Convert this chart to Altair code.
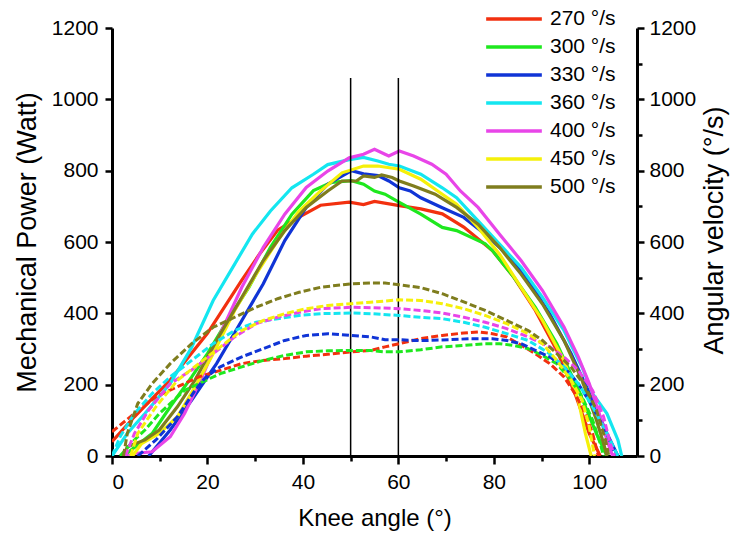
import altair as alt
import pandas as pd

FONT = "Liberation Sans"

speeds = ["270 °/s", "300 °/s", "330 °/s", "360 °/s", "400 °/s", "450 °/s", "500 °/s"]
colors = ["#F2300F", "#1EE81E", "#1034D6", "#14E6F0", "#E845E8", "#F5F00A", "#7F7D1E"]

# ---- Mechanical power (solid lines, left axis) ----
p270_x = [0, 4.7, 12.2, 20, 27.2, 31, 34.7, 39.2, 43.7, 49.7, 52.7, 55, 60.2, 64.7, 69.2, 73.7, 79.7, 84.2, 88.7, 93.2, 97, 100, 102.3]
p270_y = [40, 110, 213, 344, 493, 568, 633, 670, 703, 712, 705, 714, 702, 693, 679, 642, 576, 501, 408, 296, 175, 63, 0]

p300_x = [2.4, 8.4, 12.2, 16.7, 20, 24.2, 28.7, 33.2, 37.7, 42.2, 46, 50.2, 52.7, 55, 57.2, 60.2, 64.7, 69.2, 72.2, 78.2, 79.7, 84.2, 88.7, 93.2, 97.8, 101.5, 103.7]
p300_y = [0, 63, 138, 222, 287, 380, 473, 585, 678, 744, 767, 772, 762, 743, 734, 711, 678, 641, 632, 595, 576, 501, 417, 315, 184, 63, 0]

p330_x = [7.7, 12.2, 16.7, 21.9, 27.2, 31.7, 36.2, 40.7, 45.2, 50.2, 52.7, 55.7, 58, 60.2, 62.5, 64.7, 69.2, 73.7, 78.2, 82.7, 87.2, 91.7, 96.2, 100.7, 103.7, 106]
p330_y = [0, 73, 157, 259, 380, 483, 604, 697, 762, 800, 791, 786, 771, 752, 743, 724, 696, 669, 622, 566, 492, 399, 287, 157, 63, 0]

p360_x = [0, 3.2, 6.9, 12.2, 16.7, 21.2, 25.7, 29.4, 33.2, 37.7, 42.2, 45.2, 49.7, 52.7, 55.7, 58, 60.2, 64.7, 69.2, 72.2, 76.7, 81.2, 85.7, 90.2, 94.7, 98.5, 100.7, 103.7, 106, 106.8]
p360_y = [0, 63, 119, 203, 305, 436, 538, 622, 687, 752, 790, 817, 831, 837, 827, 818, 813, 790, 752, 724, 659, 594, 529, 445, 352, 249, 175, 119, 45, 0]

p400_x = [3.2, 4.7, 8.4, 12.2, 15.2, 18.9, 22.7, 27.2, 31.7, 36.2, 40.7, 45.2, 49.7, 52.7, 55, 57.2, 58, 60.2, 63.2, 67, 70, 73, 76.7, 81.2, 85.7, 90.2, 94.7, 97.7, 100, 102.3, 103.7, 104.9]
p400_y = [0, 7, 12, 54, 119, 222, 343, 473, 585, 678, 753, 799, 836, 846, 860, 846, 841, 855, 841, 818, 790, 743, 697, 622, 548, 464, 362, 278, 203, 110, 45, 0]

p450_x = [4.3, 6.2, 9.9, 13.7, 17.4, 21.2, 25.7, 30.2, 34.7, 39.2, 43.7, 48.2, 52.7, 55.7, 60.2, 64.7, 69.2, 72.2, 76.7, 81.2, 85.7, 90.2, 94.7, 97.7, 99.2, 100.4]
p450_y = [0, 35, 63, 110, 194, 287, 408, 510, 604, 687, 743, 794, 813, 813, 804, 776, 734, 706, 641, 566, 473, 380, 268, 157, 63, 0]

p500_x = [2.4, 3.2, 6.9, 9.9, 13.7, 17.4, 21.9, 27.2, 31.7, 36.2, 40.7, 45.2, 48.2, 51.2, 52.7, 55, 56.5, 58.7, 60.2, 63.2, 67.7, 72.2, 76.7, 81.2, 85.7, 90.2, 94.7, 98.5, 101.5, 103, 103.7]
p500_y = [0, 26, 45, 73, 138, 213, 324, 445, 548, 632, 697, 743, 771, 771, 785, 781, 788, 781, 771, 757, 734, 697, 650, 585, 510, 426, 324, 212, 101, 35, 0]

# ---- Angular velocity (dashed lines, right axis) ----
v270_x = [0, 4.7, 9.2, 13.7, 18.2, 22.7, 27.2, 31.7, 36.2, 40.7, 45.2, 50.2, 54.2, 57.2, 60.2, 64.7, 69.2, 73.7, 76.7, 79.7, 82.7, 85.7, 88.7, 91.7, 94.7, 97, 99.2, 100.7, 101.9]
v270_y = [68, 119, 166, 194, 222, 240, 259, 268, 273, 280, 285, 292, 296, 306, 315, 329, 338, 345, 348, 343, 334, 311, 287, 259, 222, 175, 119, 63, 0]

v300_x = [1.7, 4.7, 6.9, 9.9, 15.2, 18.2, 22.7, 27.2, 31.7, 36.2, 40.7, 45.2, 50.2, 54.2, 57.2, 60.2, 64.7, 69.2, 73.7, 78.2, 81.2, 84.2, 87.2, 90.2, 93.2, 96.2, 98.5, 100.7, 102.3, 103]
v300_y = [0, 45, 73, 119, 184, 203, 231, 250, 268, 282, 292, 295, 296, 296, 292, 292, 298, 306, 310, 315, 315, 310, 301, 282, 259, 212, 166, 101, 35, 0]

v330_x = [5.4, 9.2, 13.7, 17.4, 19.7, 22.7, 27.2, 31.7, 36.2, 40.7, 45.2, 50.2, 54.2, 57.2, 60.2, 63.2, 66.2, 70.7, 75.2, 79.7, 82.7, 85.7, 88.7, 91.7, 94.7, 97.7, 100.7, 103.7, 105.6]
v330_y = [0, 45, 110, 184, 222, 250, 278, 301, 324, 338, 343, 338, 334, 326, 326, 324, 324, 326, 329, 329, 324, 315, 296, 278, 250, 203, 138, 63, 0]

v360_x = [0, 1.7, 4.7, 8.4, 12.2, 16.7, 21.2, 25.7, 30.2, 34.7, 39.2, 43.7, 50.2, 54.2, 60.2, 64.7, 69.2, 73.7, 78.2, 82.7, 87.2, 91.7, 94.7, 97.7, 100.7, 103.7, 106]
v360_y = [0, 54, 119, 175, 222, 268, 315, 352, 375, 385, 394, 399, 401, 399, 394, 389, 385, 375, 361, 343, 324, 287, 250, 203, 138, 63, 0]

v400_x = [2.8, 4.7, 7.7, 12.2, 16.7, 21.2, 25.7, 30.2, 34.7, 39.2, 43.7, 50.2, 54.2, 60.2, 64.7, 69.2, 73.7, 78.2, 82.7, 87.2, 91.7, 94.7, 97.7, 100.7, 103, 104.4, 105.3]
v400_y = [0, 63, 129, 203, 241, 287, 334, 371, 389, 403, 413, 417, 416, 413, 408, 401, 389, 375, 357, 334, 306, 278, 240, 184, 110, 35, 0]

v450_x = [3.9, 5.4, 9.2, 13.7, 18.2, 22.7, 27.2, 31.7, 36.2, 40.7, 45.2, 50.2, 54.2, 60.2, 64.7, 69.2, 73.7, 78.2, 82.7, 87.2, 90.2, 93.2, 96.2, 98.5, 100, 101.1]
v450_y = [0, 63, 138, 212, 259, 306, 352, 380, 399, 413, 422, 427, 431, 438, 436, 427, 413, 394, 371, 343, 315, 268, 212, 157, 82, 0]

v500_x = [2.4, 3.2, 5.4, 8.4, 12.2, 16.7, 21.2, 25.7, 30.2, 34.7, 39.2, 43.7, 50.2, 54.2, 57.2, 60.2, 64.7, 69.2, 73.7, 78.2, 82.7, 87.2, 90.2, 93.2, 96.2, 99.2, 101.5, 103.4, 104.1]
v500_y = [0, 63, 147, 203, 259, 315, 361, 389, 417, 441, 459, 473, 483, 485, 485, 480, 472, 455, 432, 408, 380, 352, 324, 287, 249, 194, 129, 45, 0]

marker_angles = [50, 60]
marker_top = 1060

power_series = [(p270_x, p270_y), (p300_x, p300_y), (p330_x, p330_y), (p360_x, p360_y),
                (p400_x, p400_y), (p450_x, p450_y), (p500_x, p500_y)]
vel_series = [(v270_x, v270_y), (v300_x, v300_y), (v330_x, v330_y), (v360_x, v360_y),
              (v400_x, v400_y), (v450_x, v450_y), (v500_x, v500_y)]

rows = []
for s, (xs, ys) in zip(speeds, power_series):
    for i, (a, v) in enumerate(zip(xs, ys)):
        rows.append({"angle": a, "power": v, "speed": s, "i": i})
power_df = pd.DataFrame(rows)

rows = []
for s, (xs, ys) in zip(speeds, vel_series):
    for i, (a, v) in enumerate(zip(xs, ys)):
        rows.append({"angle": a, "velocity": v, "speed": s, "i": i})
vel_df = pd.DataFrame(rows)

marker_df = pd.DataFrame({"angle": marker_angles})

xscale = alt.Scale(domain=[0, 110], nice=False, zero=False)
yscale = alt.Scale(domain=[0, 1200], nice=False)

major20 = "datum.value % 20 === 0"
major200 = "datum.value % 200 === 0"

x_axis = alt.Axis(
    title="Knee angle (°)", format="d",
    values=list(range(0, 101, 10)),
    labelExpr=f"{major20} ? datum.label : ''",
    tickSize={"condition": {"test": major20, "value": 8}, "value": 5},
    titleFontSize=24, titlePadding=14, labelPadding=7,
)
yl_axis = alt.Axis(
    title="Mechanical Power (Watt)", orient="left", format="d",
    values=list(range(0, 1201, 100)),
    labelExpr=f"{major200} ? datum.label : ''",
    tickSize={"condition": {"test": major200, "value": 7}, "value": 5},
    titleFontSize=27, titlePadding=10, labelPadding=7,
)
yr_axis = alt.Axis(
    title="Angular velocity (°/s)", orient="right", format="d",
    values=list(range(0, 1201, 100)),
    labelExpr=f"{major200} ? datum.label : ''",
    tickSize={"condition": {"test": major200, "value": 7}, "value": 5},
    titleFontSize=27, titlePadding=6, labelPadding=5,
    titleAngle=270, titleBaseline="top", titleY=202,
)

color = alt.Color(
    "speed:N",
    scale=alt.Scale(domain=speeds, range=colors),
    legend=alt.Legend(
        title=None, orient="none", legendX=372, legendY=-23, padding=0,
        symbolType="stroke", symbolStrokeWidth=3.5, symbolSize=3100,
        clipHeight=28, rowPadding=0, labelFontSize=21, labelFont=FONT, labelOffset=6,
        labelColor="black", symbolDash=[1, 0],
    ),
)

solid = alt.Chart(power_df).mark_line(strokeWidth=3.2, clip=True).encode(
    x=alt.X("angle:Q", scale=xscale, axis=x_axis),
    y=alt.Y("power:Q", scale=yscale, axis=yl_axis),
    color=color,
    order="i:Q",
    detail="speed:N",
)

rules = alt.Chart(marker_df).mark_rule(color="black", strokeWidth=1.5).encode(
    x=alt.X("angle:Q", scale=xscale),
    y=alt.datum(0),
    y2=alt.datum(marker_top),
)

dashed = alt.Chart(vel_df).mark_line(strokeWidth=3, strokeDash=[7, 3], clip=True).encode(
    x=alt.X("angle:Q", scale=xscale),
    y=alt.Y("velocity:Q", scale=yscale, axis=yr_axis),
    color=alt.Color("speed:N", scale=alt.Scale(domain=speeds, range=colors)),
    order="i:Q",
    detail="speed:N",
)

left = alt.layer(solid, rules)
chart = alt.layer(left, dashed).resolve_scale(y="independent").properties(
    width=525, height=428,
    padding={"left": 112, "top": 28, "right": 93, "bottom": 80},
    autosize=alt.AutoSizeParams(type="none"),
).configure_view(stroke=None).configure_axis(
    grid=False, domainColor="black", domainWidth=3, tickColor="black", tickWidth=2.5,
    labelFont=FONT, labelFontSize=21, labelColor="black",
    titleFont=FONT, titleFontWeight="normal", titleColor="black",
)

chart.save("out.html", embed_options={"renderer": "svg", "actions": False})
